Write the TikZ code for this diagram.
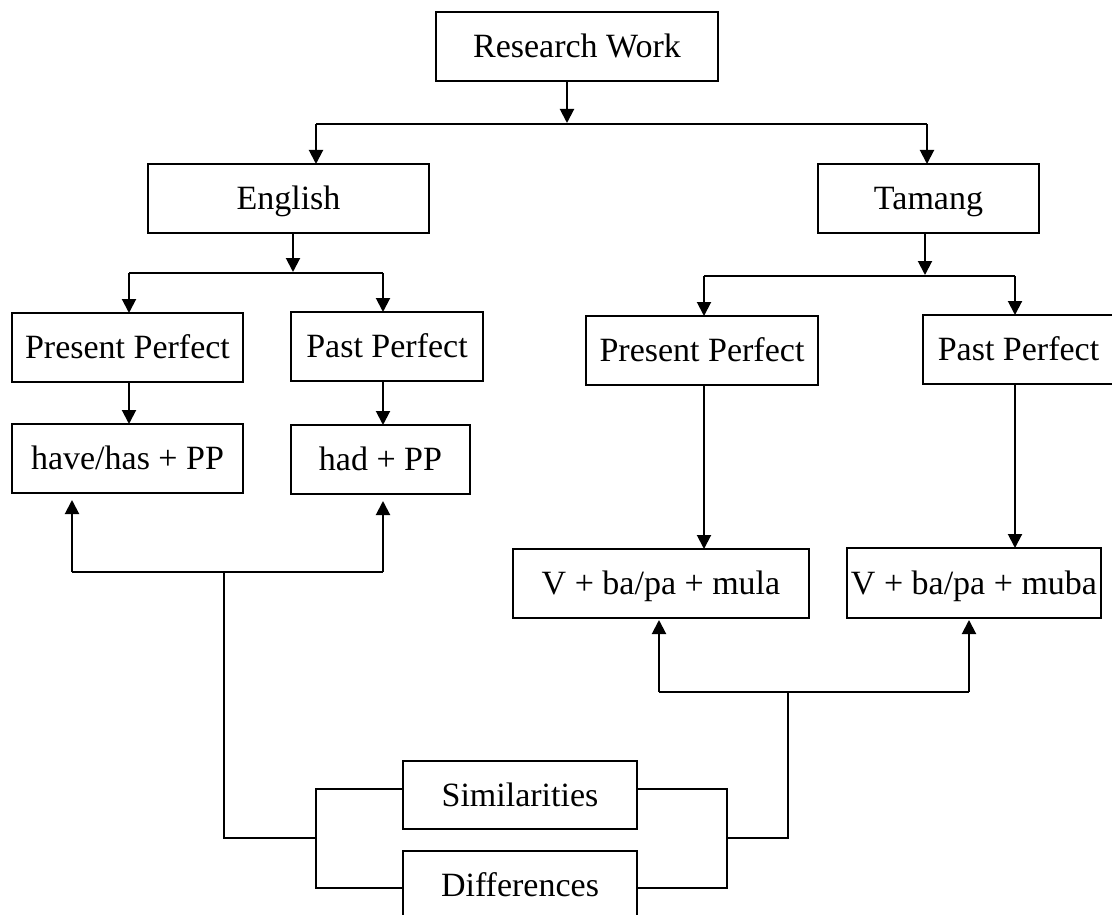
\documentclass[tikz,border=0pt]{standalone}
\usepackage{fontspec}
\setmainfont{Liberation Serif}
\usetikzlibrary{arrows.meta}
\tikzset{
  box/.style={draw, line width=1.3pt, inner sep=0pt, outer sep=0pt,
    minimum height=69pt, text height=27.2pt, text depth=4.7pt,
    font=\fontsize{34}{40}\selectfont},
  arr/.style={line width=2pt, -{Triangle[length=14pt,width=14pt]}},
  ln/.style={line width=1.4pt},
}
\begin{document}
\begin{tikzpicture}[x=1pt,y=-1pt]
\useasboundingbox (0,0) rectangle (1112,915);
\clip (0,0) rectangle (1112,915);

% boxes
\node[box, minimum width=282pt] (rw) at (577,46.5) {Research Work};
\node[box, minimum width=281pt] (en) at (288.5,198.5) {English};
\node[box, minimum width=221pt] (ta) at (928.5,198.5) {Tamang};
\node[box, minimum width=231pt] (epr) at (127.5,347.5) {Present Perfect};
\node[box, minimum width=192pt] (epa) at (387,346.5) {Past Perfect};
\node[box, minimum width=232pt] (tpr) at (702,350.5) {Present Perfect};
\node[box, minimum width=191pt] (tpa) at (1018.5,349.5) {Past Perfect};
\node[box, minimum width=231pt] (ehave) at (127.5,458.5) {have/has + PP};
\node[box, minimum width=179pt] (ehad) at (380.5,459.5) {had + PP};
\node[box, minimum width=296pt] (tmula) at (661,583.5) {V + ba/pa + mula};
\node[box, minimum width=254pt, minimum height=70pt] (tmuba) at (974,583) {V + ba/pa + muba};
\node[box, minimum width=234pt, minimum height=68pt] (sim) at (520,795) {Similarities};
\node[box, minimum width=234pt, minimum height=68pt] (dif) at (520,885) {Differences};

% junction coordinates
\coordinate (t0) at (567,123);
\coordinate (tl) at (316,124);
\coordinate (tr) at (927,124);
\coordinate (em) at (293,272);
\coordinate (el) at (129,273);
\coordinate (er) at (383,273);
\coordinate (tm) at (925,275);
\coordinate (tl2) at (704,276);
\coordinate (tr2) at (1015,276);
\coordinate (bl) at (72,572);
\coordinate (br) at (383,572);
\coordinate (bm) at (224,572);
\coordinate (lj) at (316,838);
\coordinate (ls) at (316,789);
\coordinate (ld) at (316,888);
\coordinate (rl) at (659,692);
\coordinate (rr) at (969,692);
\coordinate (rm) at (788,692);
\coordinate (rj) at (727,838);
\coordinate (rs) at (727,789);
\coordinate (rd) at (727,888);

% top level
\draw[arr] (rw.south -| t0) -- (t0);
\draw[ln] (tl) -- (tr);
\draw[arr] (tl) -- (tl |- en.north);
\draw[arr] (tr) -- (tr |- ta.north);

% English branch
\draw[arr] (en.south -| em) -- (em);
\draw[ln] (el) -- (er);
\draw[arr] (el) -- (el |- epr.north);
\draw[arr] (er) -- (er |- epa.north);
\draw[arr] (el |- epr.south) -- (el |- ehave.north);
\draw[arr] (er |- epa.south) -- (er |- ehad.north);

% Tamang branch
\draw[arr] (ta.south -| tm) -- (tm);
\draw[ln] (tl2) -- (tr2);
\draw[arr] (tl2) -- (tl2 |- tpr.north);
\draw[arr] (tr2) -- (tr2 |- tpa.north);
\draw[arr] (tl2 |- tpr.south) -- (tl2 |- tmula.north);
\draw[arr] (tr2 |- tpa.south) -- (tr2 |- tmuba.north);

% English comparison
\draw[arr, shorten >=7pt] (bl) -- (bl |- ehave.south);
\draw[arr, shorten >=7pt] (br) -- (br |- ehad.south);
\draw[ln] (bl) -- (br);
\draw[ln] (bm) |- (lj);
\draw[ln] (sim.west |- ls) -- (ls) -- (ld) -- (dif.west |- ld);

% Tamang comparison
\draw[arr, shorten >=2pt] (rl) -- (rl |- tmula.south);
\draw[arr, shorten >=2pt] (rr) -- (rr |- tmuba.south);
\draw[ln] (rl) -- (rr);
\draw[ln] (rm) |- (rj);
\draw[ln] (sim.east |- rs) -- (rs) -- (rd) -- (dif.east |- rd);
\end{tikzpicture}
\end{document}
